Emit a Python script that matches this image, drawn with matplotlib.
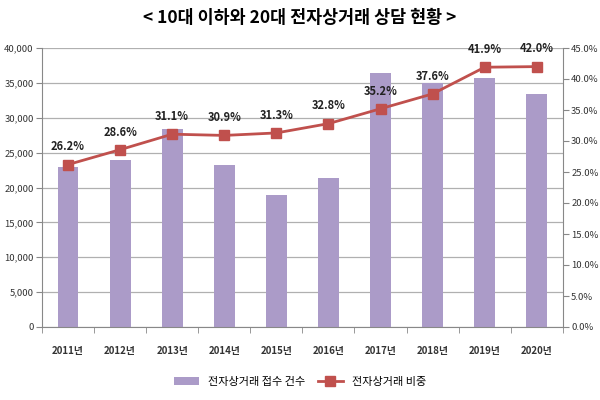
import matplotlib.pyplot as plt
import numpy as np
from matplotlib.ticker import FuncFormatter

plt.rcParams['font.family'] = ['Noto Sans CJK KR', 'DejaVu Sans']

years = ["2011년", "2012년", "2013년", "2014년", "2015년",
         "2016년", "2017년", "2018년", "2019년", "2020년"]
counts = [23000, 23900, 28400, 23200, 18900, 21400, 36400, 35000, 35700, 33400]
share = [26.2, 28.6, 31.1, 30.9, 31.3, 32.8, 35.2, 37.6, 41.9, 42.0]

fig = plt.figure(figsize=(6, 4), dpi=100)
ax = fig.add_axes([0.07, 0.1825, 0.868, 0.6975])
x = np.arange(len(years))

ax.bar(x, counts, width=0.4, color="#ab9bc8", zorder=2, label="전자상거래 접수 건수")
ax.set_ylim(0, 40000)
ax.set_xlim(-0.5, len(years) - 0.5)
ax.set_yticks(range(0, 40001, 5000))
ax.yaxis.set_major_formatter(FuncFormatter(lambda v, p: f"{int(v):,}"))
ax.grid(axis='y', color="#b0b0b0", linewidth=0.9, zorder=0)
ax.set_xticks(x)
ax.set_xticklabels(years, fontsize=7, fontweight='bold', color="#333333")
ax.set_xticks(np.arange(-0.5, len(years)), minor=True)
ax.tick_params(axis='x', which='major', length=0, pad=14)
ax.tick_params(axis='x', which='minor', length=4, color="#888888")
ax.tick_params(axis='y', labelsize=6.8, length=4, pad=2, color="#888888", labelcolor="#333333")
for s in ['top', 'right']:
    ax.spines[s].set_visible(False)
for s in ['left', 'bottom']:
    ax.spines[s].set_color("#888888")

ax2 = ax.twinx()
ax2.plot(x, share, color="#c0504d", marker='s', markersize=6.5, linewidth=2,
         zorder=3, label="전자상거래 비중")
ax2.set_ylim(0, 45)
ax2.set_yticks(range(0, 46, 5))
ax2.yaxis.set_major_formatter(FuncFormatter(lambda v, p: f"{v:.1f}%"))
ax2.tick_params(axis='y', labelsize=6.8, length=4, pad=2, color="#888888", labelcolor="#333333")
for s in ['top', 'left', 'bottom']:
    ax2.spines[s].set_visible(False)
ax2.spines['right'].set_color("#888888")
for xi, v in zip(x, share):
    ax2.text(xi, v + 1.8, f"{v:.1f}%", ha='center', va='bottom',
             fontsize=8, fontweight='bold', color="#222222")

fig.text(0.5, 0.955, "< 10대 이하와 20대 전자상거래 상담 현황 >", ha='center', va='center',
         fontsize=12.5, fontweight='bold')

h1, l1 = ax.get_legend_handles_labels()
h2, l2 = ax2.get_legend_handles_labels()
fig.legend(h1 + h2, l1 + l2, loc='center', bbox_to_anchor=(0.5, 0.045), ncol=2,
           frameon=False, fontsize=8, handlelength=2.2, columnspacing=1.2)

plt.savefig("out.png", dpi=100)
